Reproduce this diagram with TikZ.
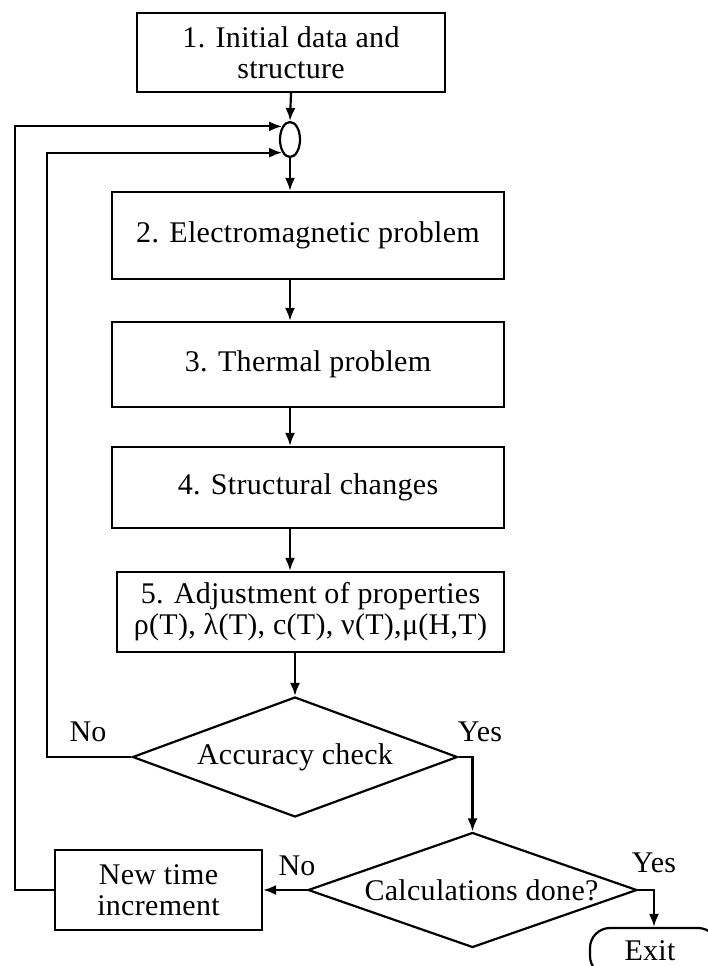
\documentclass[tikz,border=0pt]{standalone}
\usepackage{fontspec}
\setmainfont{Liberation Serif}[LetterSpace=1]
\usetikzlibrary{arrows.meta,shapes.geometric}

\tikzset{
  box/.style={draw, line width=2.2pt, inner sep=2pt, align=center,
    font=\fontsize{30}{31}\selectfont},
  decision/.style={draw, diamond, aspect=2.7, line width=2.2pt, inner sep=0pt,
    font=\fontsize{30}{31}\selectfont},
  junction/.style={draw, ellipse, line width=2.2pt, inner sep=0pt,
    minimum width=20pt, minimum height=35pt},
  term/.style={draw, rounded corners=20pt, line width=2.2pt, text depth=0pt,
    font=\fontsize{30}{31}\selectfont},
  lbl/.style={font=\fontsize{30}{31}\selectfont},
  arr/.style={line width=2.2pt, -{Latex[length=13pt,width=10pt]}}
}

\begin{document}
\begin{tikzpicture}[x=1pt, y=-1pt]
  \useasboundingbox (0, 0) rectangle (707, 966);

  \node[box, minimum width=308pt, minimum height=79pt] (init) at (291, 52.5)
    {1. Initial data and\\structure};
  \node[junction] (junc) at (290, 139.5) {};
  \node[box, minimum width=392pt, minimum height=87pt] (em) at (308, 235.5)
    {2. Electromagnetic problem};
  \node[box, minimum width=392pt, minimum height=85pt] (therm) at (308, 364.5)
    {3. Thermal problem};
  \node[box, minimum width=392pt, minimum height=81pt] (struct) at (308, 487.5)
    {4. Structural changes};
  \node[box, minimum width=387pt, minimum height=80pt] (adjust) at (310.5, 612)
    {5. Adjustment of properties\\ρ(T), λ(T), c(T), ν(T),μ(H,T)};
  \node[decision, minimum width=325pt, minimum height=120pt] (acc) at (295, 757)
    {Accuracy check};
  \node[decision, minimum width=329pt, minimum height=115pt] (calc) at (472.5, 890)
    {\hspace*{18pt}Calculations done?};
  \node[box, minimum width=207pt, minimum height=80pt] (newstep) at (158.5, 890)
    {New time\\increment};
  \node[term, minimum width=128pt, minimum height=48pt] (exit) at (654, 952)
    {\hspace*{-8pt}\raisebox{3pt}{Exit}};

  \node[lbl] (accno) at (88, 732) {No};
  \node[lbl] (accyes) at (480, 732) {Yes};
  \node[lbl] (calcno) at (297, 866) {No};
  \node[lbl] (calcyes) at (654, 863) {Yes};

  \coordinate (innerx) at (47, 757);
  \coordinate (outerx) at (15, 890);

  % main chain
  \draw[arr] (init.south) -- (junc.north);
  \draw[arr] (junc.south) -- (junc.south |- em.north);
  \draw[arr] (em.south -| junc) -- (therm.north -| junc);
  \draw[arr] (therm.south -| junc) -- (struct.north -| junc);
  \draw[arr] (struct.south -| junc) -- (adjust.north -| junc);
  \draw[arr] (adjust.south -| acc) -- (acc.north);

  % branches
  \draw[arr] (acc.west) -- (innerx) |- (junc.south west);
  \draw[arr] (acc.east) -| (calc.north);
  \draw[arr] (calc.west) -- (newstep.east);
  \draw[arr] (newstep.west) -- (outerx) |- (junc.north west);
  \draw[arr] (calc.east) -| (exit.north);
\end{tikzpicture}
\end{document}
